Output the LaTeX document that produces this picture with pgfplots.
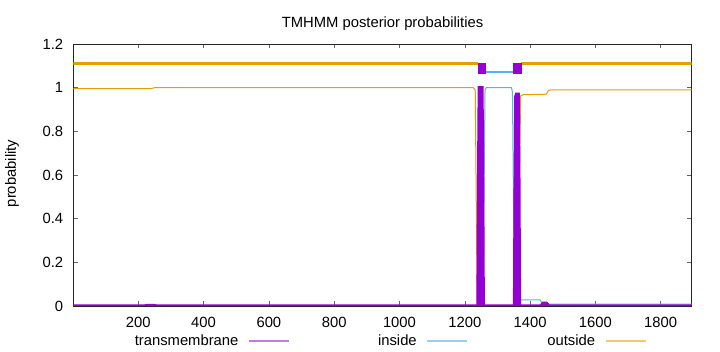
\documentclass[border=0pt]{standalone}
\usepackage{fontspec}
\setmainfont{Liberation Sans}
\usepackage{pgfplots}
\pgfplotsset{compat=1.18}
\definecolor{tmpurple}{HTML}{9400D3}
\definecolor{tmblue}{HTML}{56B4E9}
\definecolor{tmorange}{HTML}{E69F00}
\definecolor{lgpurple}{HTML}{C27AF0}
\definecolor{lgblue}{HTML}{98D2F2}
\definecolor{lgorange}{HTML}{F2C870}
\begin{document}
\fontsize{14.8bp}{17bp}\selectfont
\begin{tikzpicture}
\path[use as bounding box] (0bp,0bp) rectangle (720bp,352bp);
\begin{axis}[
  at={(73.3bp,46bp)}, anchor=south west,
  scale only axis, width=618.4bp, height=262bp,
  xmin=1, xmax=1895, ymin=0, ymax=1.2,
  xtick={200,400,600,800,1000,1200,1400,1600,1800},
  xticklabels={200,400,600,800,1000,1200,1400,1600,1800},
  ytick={0,0.2,0.4,0.6,0.8,1,1.2},
  yticklabels={0,0.2,0.4,0.6,0.8,1,1.2},
  tick align=inside,
  major tick length=4.5bp,
  every tick/.style={black!60, line width=0.5bp},
  axis line style={black!85, line width=0.8bp},
  tick label style={font=\fontsize{14.8bp}{17bp}\selectfont},
  xticklabel style={inner ysep=0pt, yshift=-10.5bp},
  yticklabel style={inner xsep=0pt, xshift=-10bp},
  title={TMHMM posterior probabilities},
  every axis title shift=0pt,
  title style={at={(axis description cs:0.5,1.064)}, anchor=base, inner sep=0pt, font=\fontsize{14.8bp}{17bp}\selectfont},
  ylabel={probability},
  ylabel style={at={(axis description cs:-0.099,0.506)}, anchor=center, inner sep=0pt, font=\fontsize{14.8bp}{17bp}\selectfont},
  legend columns=3,
  legend plot pos=right,
  legend image post style={xscale=2.352},
  legend style={at={(axis description cs:0.0775,-0.1336)}, anchor=west, draw=none, fill=none, inner sep=0pt, column sep=10bp,
    nodes={inner sep=0pt, text width=117bp, align=right, font=\fontsize{14.8bp}{17bp}\selectfont}},
]
% inside posterior
\addplot[forget plot, no markers, color=tmblue, line width=1bp] coordinates {
 (1,0) (1254,0) (1256,0.02) (1259,0.5) (1262,0.99) (1266,1.0) (1343,1.0) (1346,0.98) (1349,0.5) (1352,0.04) (1356,0.028)
 (1431,0.028) (1437,0.009) (1895,0.009)};
% outside posterior
\addplot[forget plot, no markers, color=tmorange, line width=1bp] coordinates {
 (1,0.996) (240,0.996) (250,1.0) (1226,1.0) (1232,0.99) (1235,0.5) (1238,0.02) (1241,0) (1364,0)
 (1367,0.5) (1371,0.962) (1380,0.968) (1450,0.97) (1455,0.985) (1462,0.99) (1895,0.99)};
% transmembrane posterior
\addplot[forget plot, no markers, draw=tmpurple, fill=tmpurple, line width=3bp, line join=miter] coordinates {
 (1,0) (215,0) (230,0.003) (245,0.003) (260,0) (1240,0) (1242,0.6) (1244,1.0) (1253,1.0) (1255,0.6) (1257,0)
 (1352,0) (1354,0.6) (1356,0.96) (1358,0.97) (1364,0.97) (1366,0.6) (1368,0)
 (1432,0) (1440,0.013) (1450,0.013) (1458,0) (1895,0)} \closedcycle;
% topology
\addplot[forget plot, no markers, color=tmorange, line width=2.5bp] coordinates {(1,1.11) (1240,1.11)};
\addplot[forget plot, no markers, color=tmorange, line width=2.5bp] coordinates {(1372,1.11) (1895,1.11)};
\addplot[forget plot, no markers, color=tmblue, line width=2.2bp] coordinates {(1262,1.071) (1348,1.071)};
\addplot[forget plot, no markers, draw=tmpurple, fill=tmpurple, line width=0.5bp] coordinates {(1240,1.066) (1262,1.066) (1262,1.113) (1240,1.113)} -- cycle;
\addplot[forget plot, no markers, draw=tmpurple, fill=tmpurple, line width=0.5bp] coordinates {(1348,1.066) (1372,1.066) (1372,1.113) (1348,1.113)} -- cycle;
\addlegendimage{no markers, color=lgpurple, line width=1.3bp}
\addlegendentry{transmembrane}
\addlegendimage{no markers, color=lgblue, line width=1.3bp}
\addlegendentry{inside}
\addlegendimage{no markers, color=lgorange, line width=1.3bp}
\addlegendentry{outside}
\end{axis}
\end{tikzpicture}
\end{document}
